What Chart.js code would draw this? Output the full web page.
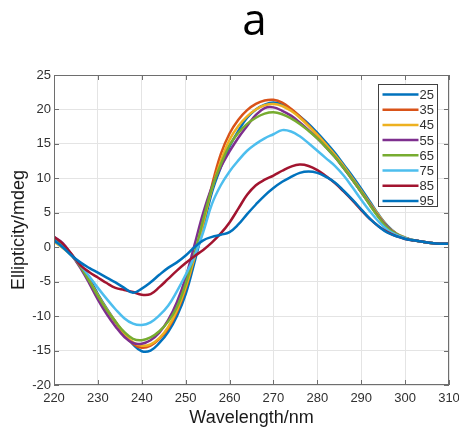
<!DOCTYPE html>
<html>
<head>
<meta charset="utf-8">
<script src="https://cdn.jsdelivr.net/npm/chart.js@4.4.1/dist/chart.umd.min.js"></script>
<style>
  body { margin: 0; background: #fff; }
  #wrap { width: 459px; height: 435px; position: relative; }
</style>
</head>
<body>
<div id="wrap"><canvas id="cdChart"></canvas></div>
<script>
// wavelength (nm) and CD signal (mdeg) per temperature
const wavelengths = [220, 222, 224, 226, 228, 230, 232, 234, 236, 238, 240, 242, 244, 246, 248, 250,
  252, 254, 256, 258, 260, 262, 264, 266, 268, 270, 272, 274, 276, 278, 280, 282, 284, 286, 288, 290,
  292, 294, 296, 298, 300, 302, 304, 306, 308, 310];

const temps = ['25', '35', '45', '55', '65', '75', '85', '95'];

const s25 = [1.0, 0.0, -1.2, -2.7, -4.5, -6.8, -8.9, -10.8, -12.6, -14.1, -15.1, -15.0, -13.9, -12.3, -10.0, -6.8,
  -2.2, 2.8, 8.0, 11.6, 14.6, 16.9, 18.8, 20.0, 20.7, 21.0, 20.7, 20.0, 19.0, 17.9, 16.6, 15.2, 13.7, 12.0, 10.3, 8.5,
  6.6, 4.7, 3.1, 2.0, 1.4, 1.0, 0.8, 0.6, 0.55, 0.5];
const s35 = [1.2, 0.2, -1.1, -2.8, -4.8, -7.1, -9.1, -10.9, -12.6, -14.0, -14.6, -14.3, -13.3, -11.8, -9.4, -6.0,
  -1.5, 3.5, 9.0, 13.5, 16.5, 18.5, 19.9, 20.8, 21.3, 21.4, 21.0, 20.1, 19.0, 17.7, 16.3, 14.8, 13.2, 11.5, 9.8, 8.0,
  6.2, 4.4, 2.9, 1.9, 1.3, 1.0, 0.8, 0.6, 0.5, 0.5];
const s45 = [0.8, -0.1, -1.2, -2.8, -4.8, -7.0, -9.0, -10.8, -12.5, -13.8, -14.3, -14.1, -13.2, -11.6, -9.2, -5.8,
  -1.5, 3.5, 8.5, 12.5, 15.6, 17.6, 19.0, 20.0, 20.6, 20.8, 20.5, 19.8, 18.8, 17.6, 16.3, 14.9, 13.4, 11.8, 10.0, 8.2,
  6.4, 4.6, 3.0, 2.0, 1.4, 1.0, 0.8, 0.6, 0.5, 0.5];
const s55 = [1.5, 0.6, -1.1, -3.0, -5.2, -7.6, -9.7, -11.5, -13.0, -13.9, -14.0, -13.5, -12.4, -10.6, -8.0, -4.4,
  0.3, 5.0, 8.8, 11.6, 13.9, 15.9, 17.6, 19.2, 20.2, 20.3, 19.8, 19.1, 18.1, 17.0, 15.8, 14.5, 13.1, 11.5, 9.8, 8.0,
  6.2, 4.4, 2.9, 1.9, 1.3, 1.0, 0.8, 0.6, 0.5, 0.5];
const s65 = [1.3, 0.3, -1.1, -2.8, -4.9, -7.1, -9.1, -10.8, -12.3, -13.3, -13.5, -13.1, -12.2, -10.8, -8.7, -5.3,
  -1.0, 4.0, 8.6, 12.0, 14.8, 16.6, 17.9, 18.8, 19.4, 19.6, 19.3, 18.7, 17.9, 16.9, 15.8, 14.5, 13.1, 11.5, 9.8, 8.0,
  6.1, 4.3, 2.8, 1.9, 1.3, 1.0, 0.8, 0.6, 0.5, 0.5];
const s75 = [1.0, 0.0, -1.2, -2.6, -4.2, -5.9, -7.5, -9.0, -10.3, -11.1, -11.3, -10.9, -9.9, -8.5, -6.4, -4.0,
  -1.3, 2.2, 6.3, 9.0, 11.0, 12.6, 14.0, 15.0, 15.8, 16.4, 17.0, 16.8, 16.1, 15.1, 14.0, 12.9, 11.8, 10.4, 8.7, 6.9,
  5.2, 3.7, 2.5, 1.8, 1.3, 1.0, 0.8, 0.6, 0.5, 0.5];
const s85 = [1.5, 0.5, -1.0, -2.6, -3.6, -4.4, -5.2, -5.9, -6.2, -6.5, -6.9, -6.8, -5.8, -4.6, -3.4, -2.3,
  -1.3, -0.4, 0.7, 2.0, 3.6, 5.6, 7.6, 9.0, 9.8, 10.4, 11.1, 11.7, 12.0, 11.8, 11.2, 10.3, 9.3, 8.1, 6.8, 5.4,
  4.1, 3.0, 2.2, 1.6, 1.2, 1.0, 0.8, 0.6, 0.5, 0.5];
const s95 = [1.0, 0.0, -1.2, -2.2, -3.0, -3.7, -4.4, -5.1, -5.9, -6.6, -6.0, -5.1, -4.0, -3.0, -2.2, -1.2,
  0.0, 1.0, 1.5, 1.8, 2.2, 3.3, 4.8, 6.2, 7.5, 8.6, 9.5, 10.2, 10.8, 11.0, 10.8, 10.2, 9.4, 8.2, 6.9, 5.5,
  4.1, 3.0, 2.1, 1.6, 1.2, 1.0, 0.8, 0.6, 0.5, 0.5];

const seriesValues = [s25, s35, s45, s55, s65, s75, s85, s95];
const xTicks = [220, 230, 240, 250, 260, 270, 280, 290, 300, 310];
const yTicks = [-20, -15, -10, -5, 0, 5, 10, 15, 20, 25];

const colors = ['#0072BD', '#D95319', '#EDB120', '#7E2F8E', '#77AC30', '#4DBEEE', '#A2142F', '#0072BD'];
const axisColor = '#6e6e6e';
const textColor = '#303030';
const fontFamily = '"Liberation Sans", Arial, sans-serif';

const datasets = temps.map((t, i) => ({
  label: t,
  data: wavelengths.map((w, j) => ({ x: w, y: seriesValues[i][j] })),
  borderColor: colors[i],
  borderWidth: 2.5,
  pointRadius: 0,
  fill: false,
  tension: 0.4,
  order: temps.length - 1 - i
}));

// box with inward ticks, MATLAB-style legend and the panel letter
const matlabLook = {
  id: 'matlabLook',
  afterDatasetsDraw(chart) {
    const { ctx, chartArea: a, scales: { x, y } } = chart;
    ctx.save();
    ctx.strokeStyle = axisColor;
    ctx.lineWidth = 1;
    ctx.strokeRect(Math.round(a.left) + 0.5, Math.round(a.top) + 0.5,
      Math.round(a.right - a.left) - 1, Math.round(a.bottom - a.top) - 1);

    ctx.beginPath();
    xTicks.forEach(v => {
      const px = Math.round(x.getPixelForValue(v)) + 0.5;
      ctx.moveTo(px, a.bottom); ctx.lineTo(px, a.bottom - 5);
      ctx.moveTo(px, a.top); ctx.lineTo(px, a.top + 5);
    });
    yTicks.forEach(v => {
      const py = Math.round(y.getPixelForValue(v)) + 0.5;
      ctx.moveTo(a.left, py); ctx.lineTo(a.left + 5, py);
      ctx.moveTo(a.right, py); ctx.lineTo(a.right - 5, py);
    });
    ctx.stroke();

    // legend
    const bx = Math.round(a.right) - 70.5;
    const by = Math.round(a.top) + 9.5;
    const bw = 59, bh = 122, step = 15.2;
    ctx.fillStyle = '#fff';
    ctx.fillRect(bx, by, bw, bh);
    ctx.strokeStyle = '#404040';
    ctx.strokeRect(bx, by, bw, bh);
    ctx.font = '13px ' + fontFamily;
    ctx.textBaseline = 'middle';
    ctx.textAlign = 'left';
    temps.forEach((t, i) => {
      const ly = by + 10 + i * step;
      ctx.strokeStyle = colors[i];
      ctx.lineWidth = 2.5;
      ctx.beginPath();
      ctx.moveTo(bx + 4, ly); ctx.lineTo(bx + 40, ly);
      ctx.stroke();
      ctx.fillStyle = textColor;
      ctx.fillText(t, bx + 41, ly + 1);
    });
    ctx.restore();
  },
  afterDraw(chart) {
    const { ctx, chartArea: a } = chart;
    ctx.save();
    ctx.fillStyle = '#000';
    ctx.font = '44px "Open Sans", sans-serif';
    ctx.textAlign = 'center';
    ctx.textBaseline = 'alphabetic';
    ctx.fillText('a', (a.left + a.right) / 2 + 3, 35);
    ctx.restore();
  }
};

new Chart(document.getElementById('cdChart'), {
  type: 'line',
  data: { datasets },
  options: {
    responsive: true,
    maintainAspectRatio: false,
    animation: false,
    layout: { padding: { top: 75, right: 10, left: 0, bottom: 0 } },
    plugins: { legend: { display: false }, tooltip: { enabled: false } },
    scales: {
      x: {
        type: 'linear',
        min: 220,
        max: 310,
        afterBuildTicks: scale => { scale.ticks = xTicks.map(v => ({ value: v })); },
        afterFit: scale => { scale.height = 50; scale.paddingLeft = 0; scale.paddingRight = 0; },
        grid: { color: '#e4e4e4', drawTicks: false },
        border: { display: false },
        ticks: { color: textColor, font: { size: 13, family: fontFamily }, padding: 6, maxRotation: 0 },
        title: { display: true, text: 'Wavelength/nm', color: '#1a1a1a',
          font: { size: 18, family: fontFamily }, padding: { top: 0, bottom: 6 } }
      },
      y: {
        min: -20,
        max: 25,
        afterBuildTicks: scale => { scale.ticks = yTicks.map(v => ({ value: v })); },
        afterFit: scale => { scale.width = 54; },
        grid: { color: '#e4e4e4', drawTicks: false },
        border: { display: false },
        ticks: { color: textColor, font: { size: 13, family: fontFamily }, padding: 3 },
        title: { display: true, text: 'Ellipticity/mdeg', color: '#1a1a1a',
          font: { size: 18, family: fontFamily }, padding: { top: 8, bottom: 0 } }
      }
    }
  },
  plugins: [matlabLook]
});
</script>
</body>
</html>
